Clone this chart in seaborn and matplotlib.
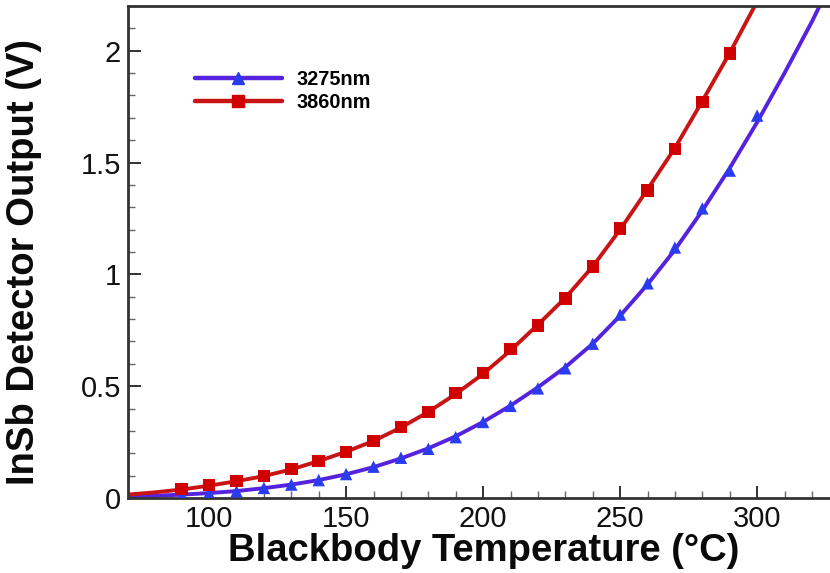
import matplotlib
matplotlib.use("Agg")
import matplotlib.pyplot as plt
from matplotlib.lines import Line2D
from matplotlib.ticker import MultipleLocator
import seaborn as sns
import pandas as pd

# measured points
temp_3275 = [90, 100, 110, 120, 130, 140, 150, 160, 170, 180, 190, 200, 210,
             220, 230, 240, 250, 260, 270, 280, 290, 300]
volt_3275 = [0.015, 0.022, 0.030, 0.045, 0.060, 0.080, 0.107, 0.140, 0.180, 0.220,
             0.272, 0.340, 0.412, 0.490, 0.580, 0.690, 0.820, 0.960, 1.120, 1.295,
             1.464, 1.710]
temp_3860 = [90, 100, 110, 120, 130, 140, 150, 160, 170, 180, 190, 200, 210,
             220, 230, 240, 250, 260, 270, 280, 290]
volt_3860 = [0.040, 0.058, 0.076, 0.098, 0.130, 0.165, 0.205, 0.254, 0.317, 0.384,
             0.469, 0.558, 0.665, 0.772, 0.893, 1.036, 1.205, 1.375, 1.560, 1.770,
             1.987]

# fitted curves
fit_t_3275 = [70, 80, 90, 100, 110, 120, 130, 140, 150, 160, 170, 180, 190, 200,
              210, 220, 230, 240, 250, 260, 270, 280, 290, 300, 310, 320, 330]
fit_v_3275 = [0.006, 0.010, 0.015, 0.022, 0.031, 0.044, 0.060, 0.080, 0.106, 0.138,
              0.177, 0.222, 0.276, 0.340, 0.413, 0.495, 0.585, 0.690, 0.815, 0.955,
              1.110, 1.285, 1.475, 1.680, 1.900, 2.130, 2.380]
fit_t_3860 = [70, 80, 90, 100, 110, 120, 130, 140, 150, 160, 170, 180, 190, 200,
              210, 220, 230, 240, 250, 260, 270, 280, 290, 300, 310]
fit_v_3860 = [0.015, 0.025, 0.038, 0.055, 0.075, 0.098, 0.128, 0.165, 0.207, 0.255,
              0.315, 0.385, 0.465, 0.555, 0.660, 0.775, 0.895, 1.035, 1.200, 1.380,
              1.565, 1.775, 1.990, 2.220, 2.470]

labels = ["3275nm", "3860nm"]
line_colors = ["#5522DD", "#C81414"]
mark_colors = ["#2A3CF0", "#D00000"]

sns.set_theme(style="white")
plt.rcParams['font.family'] = ['Liberation Sans', 'DejaVu Sans']
plt.rcParams['text.color'] = 'black'
plt.rcParams['axes.labelcolor'] = 'black'
plt.rcParams['xtick.color'] = 'black'
plt.rcParams['ytick.color'] = 'black'

fig = plt.figure(figsize=(8.3, 5.73), dpi=100)
ax = fig.add_axes([128 / 830, 1 - 498 / 573, 1 - 128 / 830, (498 - 6) / 573])

fits = [(fit_t_3275, fit_v_3275), (fit_t_3860, fit_v_3860)]
pts = [(temp_3275, volt_3275, "^"), (temp_3860, volt_3860, "s")]
for i in range(2):
    df_fit = pd.DataFrame({"T": fits[i][0], "V": fits[i][1]})
    sns.lineplot(data=df_fit, x="T", y="V", ax=ax, color=line_colors[i], lw=2.8,
                 sort=True, zorder=2)
    df_pts = pd.DataFrame({"T": pts[i][0], "V": pts[i][1]})
    sns.scatterplot(data=df_pts, x="T", y="V", ax=ax, marker=pts[i][2],
                    color=mark_colors[i], s=80, edgecolor="none", zorder=3)

ax.set_xlim(70.4, 326.6)
ax.set_ylim(0, 2.2)
ax.xaxis.set_major_locator(MultipleLocator(50))
ax.xaxis.set_minor_locator(MultipleLocator(10))
ax.yaxis.set_major_locator(MultipleLocator(0.5))
ax.yaxis.set_minor_locator(MultipleLocator(0.1))
ax.set_yticks([0, 0.5, 1, 1.5, 2])
ax.set_yticklabels(["0", "0.5", "1", "1.5", "2"])
ax.tick_params(which="both", bottom=True, left=True, top=False, right=False)
ax.tick_params(which="major", direction="in", length=9, width=1.4, color="#333333",
               labelsize=21, pad=5, labelcolor="#111111")
ax.tick_params(which="minor", direction="in", length=5, width=1.0, color="#666666")
for side in ["left", "bottom", "top"]:
    ax.spines[side].set_visible(True)
    ax.spines[side].set_color("#333333")
    ax.spines[side].set_linewidth(2)
ax.spines["right"].set_visible(False)

ax.set_xlabel("Blackbody Temperature (°C)", fontsize=27.5, fontweight="bold",
              color="#0a0a0a")
ax.set_ylabel("InSb Detector Output (V)", fontsize=27.5, fontweight="bold",
              color="#0a0a0a")
ax.xaxis.set_label_coords(0.507, -0.072)
ax.yaxis.set_label_coords(-0.123, 0.48)

handles = [
    Line2D([], [], color=line_colors[0], lw=3.2, marker="^", markersize=9,
           markerfacecolor=mark_colors[0], markeredgecolor=mark_colors[0]),
    Line2D([], [], color=line_colors[1], lw=3.2, marker="s", markersize=9,
           markerfacecolor=mark_colors[1], markeredgecolor=mark_colors[1]),
]
leg = ax.legend(handles, labels, loc="upper left", bbox_to_anchor=(0.095, 0.870),
                frameon=False, handlelength=4.4, handletextpad=0.75,
                labelspacing=0.2, borderpad=0, borderaxespad=0,
                prop={"weight": "bold", "size": 14.3})

fig.savefig("out.png", dpi=100)
